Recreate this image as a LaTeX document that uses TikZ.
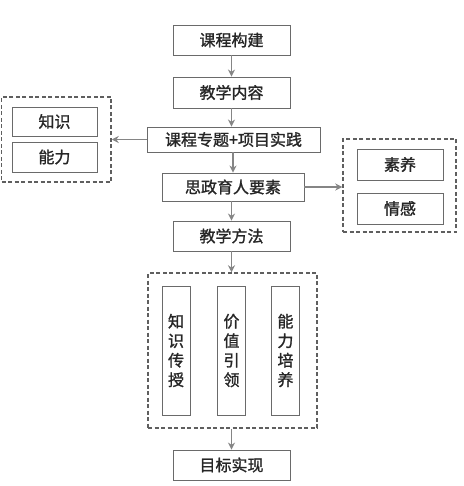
\documentclass[tikz,border=0pt]{standalone}
\usepackage{fontspec}
\newfontfamily\cjk[RawFeature={embolden=1.3}]{Noto Sans CJK SC}
\usetikzlibrary{arrows.meta}
\definecolor{boxgray}{HTML}{6A6A6A}
\definecolor{arrgray}{HTML}{858585}
\definecolor{txtgray}{HTML}{262626}
\tikzset{
  box/.style={draw=boxgray, line width=0.9pt, inner sep=0pt, text=txtgray,
    font=\cjk\fontsize{16}{19.5}\selectfont},
  vbox/.style={box, align=center, minimum width=28pt, minimum height=129pt},
  dashbox/.style={draw=boxgray!90!black, line width=1.5pt, dash pattern=on 4pt off 2.5pt, inner sep=0pt},
  arr/.style={draw=arrgray, line width=1.4pt, -{Stealth[length=7pt,width=7pt]}}
}
\begin{document}
\begin{tikzpicture}[x=1pt,y=-1pt]
  \useasboundingbox (0,0) rectangle (463,486);
  % main column
  \node[box, minimum width=117pt, minimum height=30pt] (build) at (231.5,40) {课程构建};
  \node[box, minimum width=117pt, minimum height=31pt] (content) at (231.5,92.5) {教学内容};
  \node[box, minimum width=173pt, minimum height=25pt] (topic) at (233.5,139.5) {课程专题+项目实践};
  \node[box, minimum width=142pt, minimum height=28pt] (element) at (233,187) {思政育人要素};
  \node[box, minimum width=117pt, minimum height=30pt] (method) at (231.5,236) {教学方法};
  \node[box, minimum width=117pt, minimum height=30pt] (goal) at (231.5,465) {目标实现};
  % left group
  \node[dashbox, minimum width=109.5pt, minimum height=85pt] (leftgrp) at (56.25,139.5) {};
  \node[box, minimum width=85pt, minimum height=29pt] (know) at (54.5,121.5) {知识};
  \node[box, minimum width=85pt, minimum height=30pt] (abil) at (54.5,157) {能力};
  % right group
  \node[dashbox, minimum width=113pt, minimum height=93pt] (rightgrp) at (399.5,185.5) {};
  \node[box, minimum width=86pt, minimum height=31pt] (quality) at (400,164.5) {素养};
  \node[box, minimum width=86pt, minimum height=31pt] (emotion) at (400,208.5) {情感};
  % methods group
  \node[dashbox, minimum width=169pt, minimum height=155pt] (midgrp) at (232.5,350.5) {};
  \node[vbox] (teach) at (176,350.5) {知\\识\\传\\授};
  \node[vbox] (value) at (231.5,350.5) {价\\值\\引\\领};
  \node[vbox] (train) at (285.5,350.5) {能\\力\\培\\养};
  % arrows
  \draw[arr] (build) -- (content);
  \draw[arr] (content) -- (content|-topic.north);
  \draw[arr] (topic.south-|element) -- (element);
  \draw[arr] (element.south-|method) -- (method);
  \draw[arr] (method) -- (method|-midgrp.north);
  \draw[arr] (midgrp.south-|goal) -- (goal);
  \draw[arr] (topic) -- (leftgrp.east|-topic);
  \draw[arr] (element) -- (rightgrp.west|-element);
\end{tikzpicture}
\end{document}
